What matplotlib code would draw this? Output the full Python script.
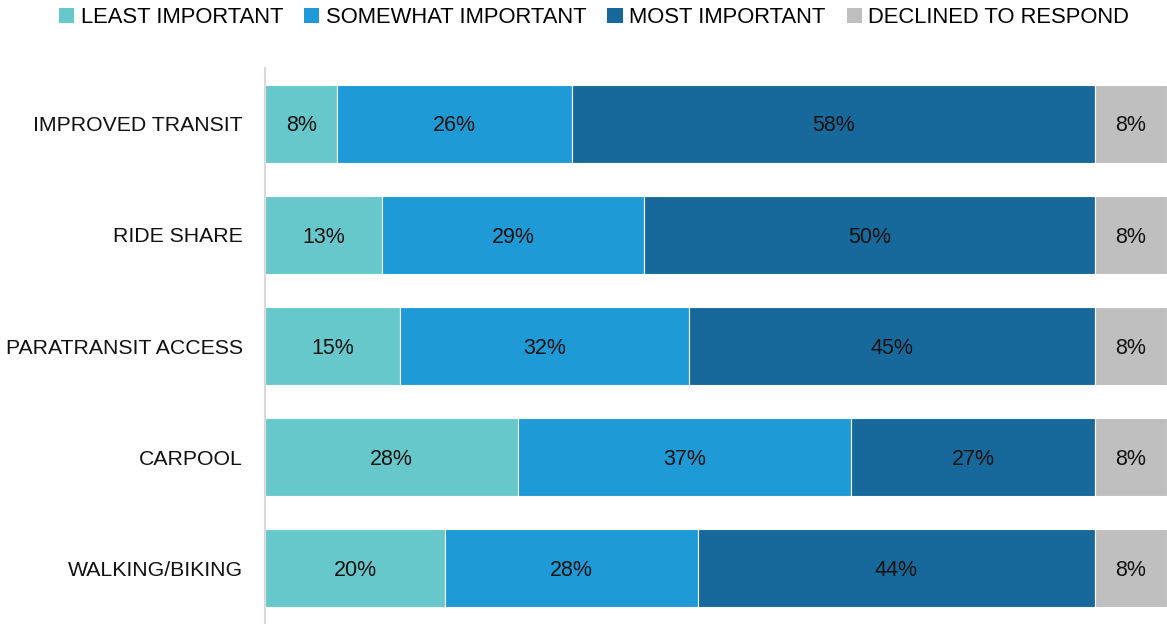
import matplotlib
matplotlib.use("Agg")
import matplotlib.pyplot as plt
from matplotlib.patches import Patch

categories = ["IMPROVED TRANSIT", "RIDE SHARE", "PARATRANSIT ACCESS", "CARPOOL", "WALKING/BIKING"]
series_names = ["LEAST IMPORTANT", "SOMEWHAT IMPORTANT", "MOST IMPORTANT", "DECLINED TO RESPOND"]
least = [8, 13, 15, 28, 20]
somewhat = [26, 29, 32, 37, 28]
most = [58, 50, 45, 27, 44]
declined = [8, 8, 8, 8, 8]
colors = ["#67c8cc", "#1e9ad6", "#17699c", "#bfbfbf"]

plt.rcParams['font.family'] = ['Liberation Sans', 'DejaVu Sans']

fig = plt.figure(figsize=(11.67, 6.24), dpi=100)
ax = fig.add_axes([0.2271, 0.0, 0.7729, 0.891])

y = list(range(len(categories)))
left = [0] * len(categories)
for name, vals, col in zip(series_names, [least, somewhat, most, declined], colors):
    ax.barh(y, vals, left=left, height=0.70, color=col, edgecolor="white", linewidth=0.8, label=name)
    for yi, l, v in zip(y, left, vals):
        ax.text(l + v / 2, yi + 0.02, f"{v}%", ha="center", va="center", fontsize=15.5, color="#111111")
    left = [a + b for a, b in zip(left, vals)]

ax.set_xlim(0, 100)
ax.set_ylim(4.5, -0.5)
ax.set_yticks(y)
ax.set_yticklabels(categories, fontsize=15.3, color="#111111")
ax.tick_params(axis="y", length=0, pad=16)
ax.set_xticks([])
for s in ["top", "right", "bottom"]:
    ax.spines[s].set_visible(False)
ax.spines["left"].set_color("#d9d9d9")
ax.spines["left"].set_linewidth(1.5)

handles = [Patch(facecolor=c, edgecolor="none") for c in colors]
fig.legend(handles, series_names, loc="center", bbox_to_anchor=(0.509, 0.972), ncol=4,
           frameon=False, fontsize=15.8, handlelength=0.7, handleheight=0.7,
           handletextpad=0.3, columnspacing=0.95)

fig.savefig("out.png", dpi=100)
